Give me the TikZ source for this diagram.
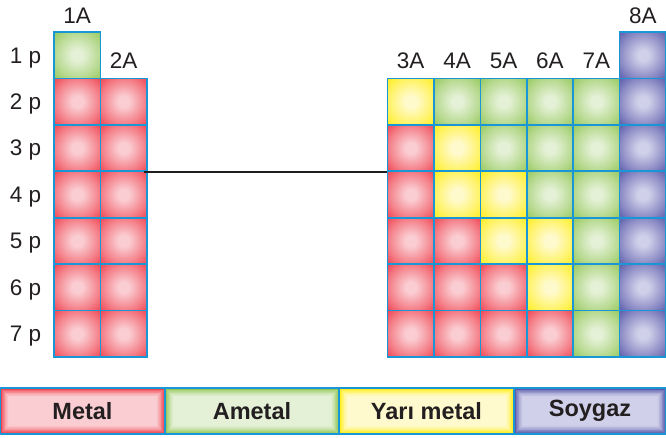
\documentclass[tikz,border=0pt]{standalone}
\usepackage{fontspec}
\setmainfont{Liberation Sans}
\definecolor{redE}{RGB}{238,48,62}
\definecolor{redC}{RGB}{250,205,210}
\definecolor{grE}{RGB}{138,194,74}
\definecolor{grC}{RGB}{228,241,214}
\definecolor{yeE}{RGB}{255,236,0}
\definecolor{yeC}{RGB}{255,250,206}
\definecolor{blE}{RGB}{74,74,162}
\definecolor{blC}{RGB}{208,208,234}
\definecolor{cellB}{RGB}{24,150,214}
\definecolor{txt}{RGB}{35,31,32}
\colorlet{redM}{redE!50!redC}
\colorlet{grM}{grE!50!grC}
\colorlet{yeM}{yeE!50!yeC}
\colorlet{blM}{blE!50!blC}
\pgfdeclareradialshading{redsh}{\pgfpoint{0bp}{0bp}}{color(0bp)=(redC); color(6bp)=(redC); color(24bp)=(redM); color(40bp)=(redE); color(72bp)=(redE)}
\pgfdeclareradialshading{grsh}{\pgfpoint{0bp}{0bp}}{color(0bp)=(grC); color(6bp)=(grC); color(24bp)=(grM); color(40bp)=(grE); color(72bp)=(grE)}
\pgfdeclareradialshading{yesh}{\pgfpoint{0bp}{0bp}}{color(0bp)=(yeC); color(6bp)=(yeC); color(24bp)=(yeM); color(40bp)=(yeE); color(72bp)=(yeE)}
\pgfdeclareradialshading{blsh}{\pgfpoint{0bp}{0bp}}{color(0bp)=(blC); color(6bp)=(blC); color(24bp)=(blM); color(40bp)=(blE); color(72bp)=(blE)}
\tikzset{
  cell/.style={draw=cellB, line width=1.7pt, minimum size=46.43pt, inner sep=0pt, shade, shading=#1sh},
  lbl/.style={font=\fontsize{22.5}{26}\selectfont, text=txt, inner sep=0pt, anchor=base},
  legbox/.style={draw=cellB, line width=1.4pt, minimum height=46pt, inner sep=0pt,
    font=\bfseries\fontsize{23.5}{26}\selectfont, text=txt,
    path picture={\foreach \i in {0,...,12}{\pgfmathtruncatemacro\pc{100*(1-(1-\i/12)^1.6)}
      \fill[#1C!\pc!#1E] ([shift={(\i*0.75pt,\i*0.75pt)}]path picture bounding box.south west)
        rectangle ([shift={(-\i*0.75pt,-\i*0.75pt)}]path picture bounding box.north east);}}}
}
\begin{document}
\begin{tikzpicture}[x=1pt,y=-1pt]
\useasboundingbox (0,0) rectangle (666,437);
% left block
\node[cell=gr] (c-1-1) at (77.2,55.2) {};
\foreach \r in {2,...,7}{
  \node[cell=red] (c-\r-1) at (77.2,{32+46.43*(\r-1)+23.2}) {};
  \node[cell=red] (c-\r-2) at (123.6,{32+46.43*(\r-1)+23.2}) {};
}
% right block
\node[cell=bl] (c-1-8) at ({387.5+46.43*5+23.2},55.2) {};
\foreach \r/\L in {2/{ye,gr,gr,gr,gr,bl},3/{red,ye,gr,gr,gr,bl},4/{red,ye,ye,gr,gr,bl},5/{red,red,ye,ye,gr,bl},6/{red,red,red,ye,gr,bl},7/{red,red,red,red,gr,bl}}{
  \foreach \c [count=\k from 3] in \L {
    \node[cell=\c] (c-\r-\k) at ({387.5+46.43*(\k-3)+23.2},{32+46.43*(\r-1)+23.2}) {};
  }
}
% connector
\draw[line width=2.2pt, black!88] ([xshift=-4pt]c-3-2.south east) -- (c-3-3.south west);
% group labels
\node[lbl] (g1) at (77.2,23.5) {1A};
\node[lbl] (g2) at (123.6,68) {2A};
\foreach \k/\t in {3/3A,4/4A,5/5A,6/6A,7/7A}{
  \node[lbl] (g\k) at ({387.5+46.43*(\k-3)+23.2},68) {\t};
}
\node[lbl] (g8) at ({387.5+46.43*5+23.2},23.5) {8A};
% period labels
\foreach \r in {1,...,7}{
  \node[lbl] (p\r) at (25.5,{32+46.43*(\r-1)+23.2+7.8}) {\r\ p};
}
% legend
\node[legbox=red, minimum width=165pt] (lm) at (82.5,411) {Metal};
\node[legbox=gr, minimum width=174pt] (la) at (252,411) {Ametal};
\node[legbox=ye, minimum width=175pt] (ly) at (426.5,411) {Yarı metal};
\node[legbox=bl, minimum width=152pt] (ls) at (590,411) {Soygaz};
\end{tikzpicture}
\end{document}
